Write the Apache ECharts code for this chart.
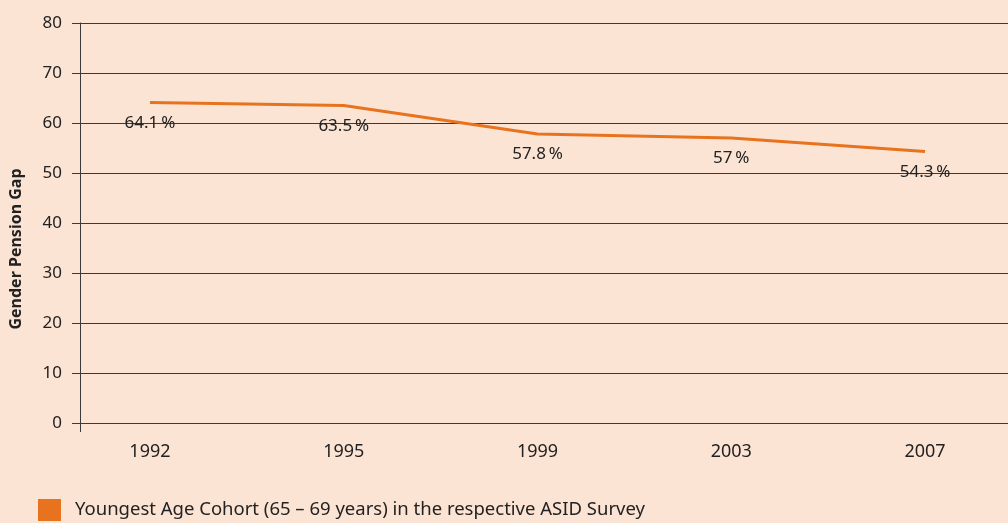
<!DOCTYPE html>
<html>
<head>
<meta charset="utf-8">
<script src="https://cdn.jsdelivr.net/npm/echarts@6/dist/echarts.min.js"></script>
<style>
  html, body { margin: 0; padding: 0; background: #fce4d4; }
  #chart { width: 1008px; height: 523px; }
</style>
</head>
<body>
<div id="chart"></div>
<script>
  // survey years and gap values (%)
  const years = ['1992', '1995', '1999', '2003', '2007']
  const gapValues = [64.1, 63.5, 57.8, 57, 54.3]
  const seriesName = 'Youngest Age Cohort (65 \u2013 69 years) in the respective ASID Survey'

  const colors = {
    orange: '#e8731f',
    text: '#222',
    line: '#3a3a3a'
  }

  // x runs on the year index so the first/last points sit inset from the plot edges
  const xMin = -0.361
  const xMax = 4.428

  const chart = echarts.init(document.getElementById('chart'))
  chart.setOption({
    backgroundColor: '#fce4d4',
    textStyle: { fontFamily: 'Noto Sans', color: colors.text },
    grid: { left: 80, right: 0, top: 23, bottom: 100, outerBoundsMode: 'none', containLabel: false },
    legend: {
      left: 33,
      top: 494,
      icon: 'rect',
      itemWidth: 23,
      itemHeight: 22,
      itemGap: 10,
      textStyle: { fontSize: 18.5, color: colors.text, fontFamily: 'Noto Sans', padding: [0, 0, 0, 9] },
      data: [seriesName]
    },
    xAxis: {
      type: 'value',
      min: xMin,
      max: xMax,
      axisLine: { show: true, lineStyle: { color: colors.line, width: 1 } },
      axisTick: {
        show: true,
        customValues: [xMin],
        length: 9,
        lineStyle: { color: colors.line, width: 1 }
      },
      splitLine: { show: false },
      axisLabel: {
        customValues: [0, 1, 2, 3, 4],
        formatter: v => years[Math.round(v)],
        margin: 20,
        fontSize: 18,
        color: colors.text
      }
    },
    yAxis: {
      type: 'value',
      min: 0,
      max: 80,
      interval: 10,
      name: 'Gender Pension Gap',
      nameLocation: 'middle',
      nameGap: 56,
      nameTextStyle: {
        fontSize: 16,
        fontWeight: 'bold',
        color: colors.text,
        padding: [0, 52, 0, 0]
      },
      axisLine: { show: true, onZero: false, lineStyle: { color: colors.line, width: 1 } },
      axisTick: { show: true, length: 8, lineStyle: { color: colors.line, width: 1 } },
      axisLabel: { margin: 18, fontSize: 17, color: colors.text },
      splitLine: { show: true, lineStyle: { color: colors.line, width: 1 } }
    },
    series: [
      {
        name: seriesName,
        type: 'line',
        showSymbol: true,
        symbol: 'circle',
        symbolSize: 0,
        itemStyle: { color: colors.orange },
        lineStyle: { color: colors.orange, width: 3 },
        label: {
          show: true,
          position: 'bottom',
          distance: 12,
          fontSize: 17,
          color: colors.text,
          formatter: p => p.value[1] + '\u2009%'
        },
        data: gapValues.map((v, i) => [i, v])
      }
    ]
  })
</script>
</body>
</html>
